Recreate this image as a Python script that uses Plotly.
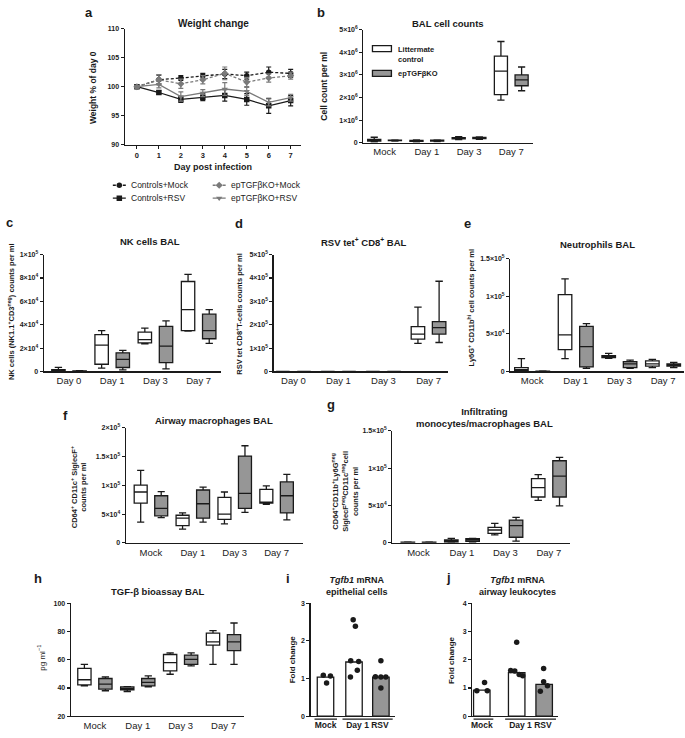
import plotly.graph_objects as go

W, H = 685, 738

# ---------------- data ----------------
weight_days = [0, 1, 2, 3, 4, 5, 6, 7]
controls_mock = [100.0, 101.2, 101.5, 101.9, 102.2, 101.9, 102.5, 102.3]
controls_mock_sem = [0.2, 0.8, 0.4, 0.4, 0.8, 0.6, 0.9, 0.7]
ko_mock = [100.0, 101.2, 100.5, 101.2, 102.3, 100.8, 101.5, 101.9]
ko_mock_sem = [0.2, 0.9, 0.8, 0.7, 1.1, 0.8, 0.7, 0.6]
controls_rsv = [100.0, 99.0, 97.8, 98.2, 98.5, 97.8, 96.7, 97.6]
controls_rsv_sem = [0.2, 0.3, 0.5, 0.6, 1.0, 1.0, 1.3, 0.9]
ko_rsv = [100.0, 100.4, 98.3, 98.9, 99.6, 99.2, 97.3, 98.1]
ko_rsv_sem = [0.2, 0.6, 0.8, 0.6, 1.1, 0.7, 0.6, 0.6]

times_mock = ["Mock", "Day 1", "Day 3", "Day 7"]
times_day0 = ["Day 0", "Day 1", "Day 3", "Day 7"]

# box statistics per category: [min, q1, median, q3, max]
bal_control = [[0.04e6, 0.07e6, 0.11e6, 0.15e6, 0.24e6], [0.04e6, 0.06e6, 0.08e6, 0.10e6, 0.12e6],
               [0.14e6, 0.17e6, 0.19e6, 0.22e6, 0.27e6], [1.88e6, 2.13e6, 3.17e6, 3.83e6, 4.48e6]]
bal_ko = [[0.07e6, 0.09e6, 0.10e6, 0.11e6, 0.12e6], [0.05e6, 0.07e6, 0.09e6, 0.11e6, 0.12e6],
          [0.15e6, 0.18e6, 0.21e6, 0.23e6, 0.26e6], [2.30e6, 2.52e6, 2.78e6, 3.00e6, 3.35e6]]

nk_control = [[0.0, 0.04e4, 0.08e4, 0.15e4, 0.35e4], [0.28e4, 0.62e4, 2.25e4, 3.15e4, 3.5e4],
              [2.36e4, 2.45e4, 2.73e4, 3.37e4, 3.71e4], [3.45e4, 3.5e4, 5.3e4, 7.7e4, 8.3e4]]
nk_ko = [[0.0, 0.02e4, 0.04e4, 0.06e4, 0.08e4], [0.14e4, 0.34e4, 1.04e4, 1.6e4, 1.8e4],
         [0.22e4, 0.76e4, 2.17e4, 3.86e4, 4.33e4], [2.4e4, 2.8e4, 3.5e4, 4.9e4, 5.3e4]]

rsv_control = [[0, 0, 0, 0, 0], [0, 0, 0, 0, 0], [0, 0, 0, 0, 0],
               [1.20e5, 1.38e5, 1.60e5, 1.92e5, 2.75e5]]
rsv_ko = [[0, 0, 0, 0, 0], [0, 0, 0, 0, 0], [0, 0, 0, 0, 0],
          [1.24e5, 1.60e5, 1.88e5, 2.13e5, 3.86e5]]

neut_control = [[0.0, 0.1e4, 0.2e4, 0.5e4, 1.7e4], [1.7e4, 2.9e4, 4.87e4, 10.2e4, 12.3e4],
                [1.75e4, 1.85e4, 1.95e4, 2.1e4, 2.4e4], [0.5e4, 0.7e4, 1.0e4, 1.4e4, 1.6e4]]
neut_ko = [[0.0, 0.02e4, 0.04e4, 0.06e4, 0.08e4], [0.4e4, 0.6e4, 3.3e4, 6.0e4, 6.35e4],
           [0.4e4, 0.5e4, 1.0e4, 1.3e4, 1.5e4], [0.5e4, 0.7e4, 0.85e4, 1.0e4, 1.2e4]]

am_control = [[3.6e4, 6.9e4, 8.85e4, 10.05e4, 12.6e4], [2.4e4, 3.0e4, 4.3e4, 4.8e4, 5.2e4],
              [3.3e4, 4.1e4, 5.0e4, 7.9e4, 8.85e4], [6.7e4, 6.9e4, 7.1e4, 9.3e4, 9.9e4]]
am_ko = [[4.4e4, 4.7e4, 6.0e4, 8.2e4, 8.9e4], [3.6e4, 4.3e4, 6.8e4, 9.2e4, 9.7e4],
         [5.3e4, 6.0e4, 8.6e4, 15.1e4, 16.9e4], [4.0e4, 5.2e4, 8.2e4, 10.6e4, 11.9e4]]

mono_control = [[0.02e4, 0.05e4, 0.08e4, 0.1e4, 0.12e4], [0.0, 0.1e4, 0.2e4, 0.4e4, 0.6e4],
                [1.06e4, 1.28e4, 1.72e4, 2.08e4, 2.6e4], [5.7e4, 6.14e4, 7.4e4, 8.6e4, 9.15e4]]
mono_ko = [[0.02e4, 0.05e4, 0.08e4, 0.1e4, 0.12e4], [0.1e4, 0.2e4, 0.4e4, 0.55e4, 0.6e4],
           [0.22e4, 0.75e4, 2.3e4, 3.05e4, 3.4e4], [4.95e4, 6.14e4, 8.93e4, 11.0e4, 11.45e4]]

tgf_control = [[41.5, 42.2, 45.8, 53.9, 56.7], [37.5, 38.7, 39.6, 40.8, 41.0],
               [49.7, 52.1, 57.9, 63.7, 64.9], [56.7, 70.3, 72.6, 78.9, 80.6]]
tgf_ko = [[38.0, 39.2, 42.7, 46.7, 47.9], [40.8, 41.5, 43.9, 46.7, 48.6],
          [55.6, 56.7, 60.2, 63.3, 64.9], [56.7, 66.5, 72.6, 77.8, 86.0]]

mrna_groups = ["Mock", "Day 1 RSV"]
epi_bars = [1.04, 1.44, 1.04]
epi_mock = [1.09, 1.07, 0.88]
epi_rsv_control = [2.56, 2.39, 1.47, 1.45, 1.22, 1.04]
epi_rsv_ko = [1.47, 1.05, 1.04, 1.04, 0.75]
leuk_bars = [0.92, 1.54, 1.13]
leuk_mock = [1.19, 0.90, 0.90]
leuk_rsv_control = [2.62, 1.62, 1.60, 1.48, 1.43]
leuk_rsv_ko = [1.69, 1.22, 1.08, 0.88]

# ---------------- styling / layout helpers ----------------
INK = "#1a1a1a"
GREY = "#969696"
LINEGREY = "#7a7a7a"
FONT = "Liberation Sans, Arial, sans-serif"


def px(x):
    return x / W


def py(y):
    return 1 - y / H


def sci(m, e):
    return "0" if m == 0 else f"{m}\u00d710<sup>{e}</sup>"


fig = go.Figure()
layout = dict(width=W, height=H, margin=dict(l=0, r=0, t=0, b=0, pad=0),
              plot_bgcolor="rgba(0,0,0,0)", paper_bgcolor="white", boxmode="overlay",
              font=dict(family=FONT, color=INK), showlegend=False)


def add_axes(n, xpx, ypx, xrange, yrange, yvals, ytext, xvals, xtext,
             xticks="", xfont=None):
    xk = "xaxis" if n == 1 else f"xaxis{n}"
    yk = "yaxis" if n == 1 else f"yaxis{n}"
    xid = "x" if n == 1 else f"x{n}"
    yid = "y" if n == 1 else f"y{n}"
    layout[xk] = dict(domain=[px(xpx[0]), px(xpx[1])], range=xrange, anchor=yid,
                      showline=True, linecolor=INK, linewidth=1.3, showgrid=False,
                      zeroline=False, ticks=xticks, ticklen=3, tickwidth=1.1,
                      tickcolor=INK, tickvals=xvals, ticktext=xtext,
                      tickfont=xfont or dict(size=9.5, color="#222"), fixedrange=True)
    layout[yk] = dict(domain=[py(ypx[1]), py(ypx[0])], range=yrange, anchor=xid,
                      showline=True, linecolor=INK, linewidth=1.3, showgrid=False,
                      zeroline=False, ticks="outside", ticklen=3, tickwidth=1.1,
                      tickcolor=INK, tickvals=yvals, ticktext=ytext,
                      tickfont=dict(size=7, color=INK, weight="bold"), fixedrange=True)
    return xid, yid


def add_boxes(n, stats_control, stats_ko, off=0.245, width=0.31):
    xid = "x" if n == 1 else f"x{n}"
    yid = "y" if n == 1 else f"y{n}"
    for stats, shift, fill in ((stats_control, -off, "white"), (stats_ko, off, GREY)):
        for i, s in enumerate(stats):
            fig.add_trace(go.Box(x=[i + shift], lowerfence=[s[0]], q1=[s[1]], median=[s[2]],
                                 q3=[s[3]], upperfence=[s[4]], width=width,
                                 whiskerwidth=0.55, fillcolor=fill,
                                 line=dict(color=INK, width=1.3), boxpoints=False,
                                 showlegend=False, hoverinfo="skip",
                                 xaxis=xid, yaxis=yid))


annotations = []
shapes = []


def text(x, y, t, size=10, bold=True, angle=0, xanchor="center", yanchor="middle",
         align="center", color=INK):
    s = f"<b>{t}</b>" if bold else t
    annotations.append(dict(x=px(x), y=py(y), xref="paper", yref="paper", text=s,
                            showarrow=False, textangle=angle, xanchor=xanchor,
                            yanchor=yanchor, align=align,
                            font=dict(size=size, family=FONT, color=color)))


# ---------------- panel a : weight ----------------
add_axes(1, (124, 300), (25, 142), [-0.55, 7.45], [90, 110],
         [90, 95, 100, 105, 110], ["90", "95", "100", "105", "110"],
         weight_days, [str(d) for d in weight_days], xticks="outside",
         xfont=dict(size=7.5, color=INK, weight="bold"))

series = [
    ("Controls+Mock", controls_mock, controls_mock_sem, INK, "circle", "3px,2px"),
    ("Controls+RSV", controls_rsv, controls_rsv_sem, INK, "square", "solid"),
    ("epTGF\u03b2KO+Mock", ko_mock, ko_mock_sem, LINEGREY, "diamond", "3px,2px"),
    ("epTGF\u03b2KO+RSV", ko_rsv, ko_rsv_sem, LINEGREY, "triangle-down", "solid"),
]
for name, vals, err, col, sym, dash in series:
    fig.add_trace(go.Scatter(x=weight_days, y=vals, name=name, mode="lines+markers",
                             line=dict(color=col, width=1.3, dash=dash),
                             marker=dict(symbol=sym, size=5.5, color=col),
                             error_y=dict(type="data", array=err, color=col,
                                          thickness=1.2, width=2.5),
                             xaxis="x", yaxis="y", hoverinfo="skip"))

# hand-drawn legend for panel a, on an invisible pixel-unit axis in the empty legend strip
LEG_X, LEG_Y = (100, 330), (174, 204)
layout["xaxis11"] = dict(domain=[px(LEG_X[0]), px(LEG_X[1])], range=list(LEG_X),
                         visible=False, fixedrange=True, anchor="y11")
layout["yaxis11"] = dict(domain=[py(LEG_Y[1]), py(LEG_Y[0])], range=[LEG_Y[1], LEG_Y[0]],
                         visible=False, fixedrange=True, anchor="x11")
legend_slots = [(112, 183), (112, 196), (212, 183), (212, 196)]
for (name, vals, err, col, sym, dash), (lx, ly) in zip(series, legend_slots):
    fig.add_trace(go.Scatter(x=[lx, lx + 13], y=[ly, ly], mode="lines",
                             line=dict(color=col, width=1.3, dash=dash),
                             xaxis="x11", yaxis="y11", hoverinfo="skip"))
    fig.add_trace(go.Scatter(x=[lx + 6.5], y=[ly], mode="markers",
                             marker=dict(symbol=sym, size=5.5, color=col),
                             xaxis="x11", yaxis="y11", hoverinfo="skip"))
    text(lx + 16, ly, name, size=8.5, bold=False, xanchor="left", color="#222")

text(88, 9, "a", size=13)
text(213, 20, "Weight change", size=10)
text(92, 84, "Weight % of day 0", size=8.5, angle=-90)
text(212, 165, "Day post infection", size=9)

# ---------------- panel b : BAL cell counts ----------------
add_axes(2, (363, 533), (26, 140), [-0.5, 3.52], [0, 5e6],
         [0, 1e6, 2e6, 3e6, 4e6, 5e6], [sci(m, 6) for m in range(6)],
         [0, 1, 2, 3], times_mock)
add_boxes(2, bal_control, bal_ko)
text(320, 9, "b", size=13)
text(448, 20, "BAL cell counts", size=9.5)
text(324, 83, "Cell count per ml", size=8.5, angle=-90)
shapes.append(dict(type="rect", xref="paper", yref="paper", x0=px(372), x1=px(391),
                   y0=py(48), y1=py(42), fillcolor="white", line=dict(color=INK, width=1.3)))
shapes.append(dict(type="rect", xref="paper", yref="paper", x0=px(372), x1=px(391),
                   y0=py(73), y1=py(67), fillcolor=GREY, line=dict(color=INK, width=1.3)))
text(396, 51, "Littermate<br>control", size=7.5, xanchor="left", align="left")
text(396, 70, "epTGF\u03b2KO", size=7.5, xanchor="left", align="left")

# ---------------- panel c : NK cells ----------------
add_axes(3, (43, 220), (253, 371), [-0.58, 3.51], [0, 1e5],
         [0, 2e4, 4e4, 6e4, 8e4, 1e5],
         ["0", sci(2, 4), sci(4, 4), sci(6, 4), sci(8, 4), sci(1, 5)],
         [0, 1, 2, 3], times_day0)
add_boxes(3, nk_control, nk_ko)
text(9, 221, "c", size=13)
text(149, 240, "NK cells BAL", size=9.5)
text(10, 310, "NK cells (NK1.1<sup>+</sup>CD3<sup>neg</sup>) counts per ml", size=7.5, angle=-90)

# ---------------- panel d : RSV tet+ CD8+ ----------------
add_axes(4, (273, 448), (253, 371), [-0.44, 3.44], [0, 5e5],
         [0, 1e5, 2e5, 3e5, 4e5, 5e5], [sci(m, 5) for m in range(6)],
         [0, 1, 2, 3], times_day0)
add_boxes(4, rsv_control, rsv_ko, off=0.235, width=0.3)
text(238, 222, "d", size=13)
text(364, 240, "RSV tet<sup>+</sup> CD8<sup>+</sup> BAL", size=9.5)
text(238, 313, "RSV tet CD8<sup>+</sup>T-cells counts per ml", size=7.5, angle=-90)

# ---------------- panel e : neutrophils ----------------
add_axes(5, (510, 684), (257, 371), [-0.5, 3.48], [0, 1.5e5],
         [0, 5e4, 1e5, 1.5e5], ["0", sci(5, 4), sci(1, 5), sci(1.5, 5)],
         [0, 1, 2, 3], times_mock)
add_boxes(5, neut_control, neut_ko)
text(467, 222, "e", size=13)
text(597, 243, "Neutrophils BAL", size=9.5)
text(471, 306, "Ly6G<sup>+</sup> CD11b<sup>hi</sup> cell counts per ml", size=7.5, angle=-90)

# ---------------- panel f : airway macrophages ----------------
add_axes(6, (125, 302), (428, 544), [-0.6, 3.62], [0, 2e5],
         [0, 5e4, 1e5, 1.5e5, 2e5], ["0", sci(5, 4), sci(1, 5), sci(1.5, 5), sci(2, 5)],
         [0, 1, 2, 3], times_mock)
add_boxes(6, am_control, am_ko)
text(65, 415, "f", size=13)
text(213, 420, "Airway macrophages BAL", size=9.5)
text(78, 488, "CD64<sup>+</sup> CD11c<sup>+</sup> SiglecF<sup>+</sup><br>counts per ml",
     size=7.5, angle=-90)

# ---------------- panel g : infiltrating monocytes/macrophages ----------------
add_axes(7, (392, 570), (431, 544), [-0.6, 3.49], [0, 1.5e5],
         [0, 5e4, 1e5, 1.5e5], ["0", sci(5, 4), sci(1, 5), sci(1.5, 5)],
         [0, 1, 2, 3], times_mock)
add_boxes(7, mono_control, mono_ko)
text(330, 404, "g", size=13)
text(484, 417, "Infiltrating<br>monocytes/macrophages BAL", size=9.5)
text(345, 492, "CD64<sup>+</sup>CD11b<sup>+</sup>Ly6G<sup>neg</sup><br>"
     "SiglecF<sup>neg</sup>CD11c<sup>neg</sup>cell<br>counts per ml", size=7.5, angle=-90)

# ---------------- panel h : TGF-beta bioassay ----------------
add_axes(8, (70, 243), (605, 719), [-0.56, 3.47], [20, 100],
         [20, 40, 60, 80, 100], ["20", "40", "60", "80", "100"],
         [0, 1, 2, 3], times_mock)
add_boxes(8, tgf_control, tgf_ko)
text(37, 580, "h", size=13)
text(157, 593, "TGF-\u03b2 bioassay BAL", size=9.5)
text(40, 660, "pg ml<sup>\u22121</sup>", size=8, bold=False, angle=-90)


# ---------------- panels i, j : Tgfb1 mRNA ----------------
def mrna_panel(n, xpx, xrange, ymax, pos, bars, groups_pts, jitters, centers):
    xid, yid = add_axes(n, xpx, (605, 719), xrange, [0, ymax],
                        list(range(ymax + 1)), [str(v) for v in range(ymax + 1)],
                        centers, [f"<b>{g}</b>" for g in mrna_groups],
                        xfont=dict(size=8.5, color=INK))
    fig.add_trace(go.Bar(x=pos, y=bars, width=0.6, marker=dict(color=["white", "white", GREY],
                         line=dict(color=INK, width=1.3)), showlegend=False,
                         hoverinfo="skip", xaxis=xid, yaxis=yid))
    for p, pts, jit in zip(pos, groups_pts, jitters):
        fig.add_trace(go.Scatter(x=[p + j for j in jit], y=pts, mode="markers",
                                 marker=dict(color=INK, size=5.5), showlegend=False,
                                 hoverinfo="skip", xaxis=xid, yaxis=yid))
    return xid, yid


xi, yi = mrna_panel(9, (310, 395), [-0.545, 2.55], 3, [0, 1.04, 2.02], epi_bars,
                    [epi_mock, epi_rsv_control, epi_rsv_ko],
                    [[-0.08, 0.18, 0.04], [-0.03, 0.05, -0.12, 0.17, 0.12, -0.13],
                     [0.0, -0.2, 0.0, 0.18, 0.0]], [0, 1.53])
xj, yj = mrna_panel(10, (472, 558), [-0.345, 2.78], 4, [0, 1.27, 2.27], leuk_bars,
                    [leuk_mock, leuk_rsv_control, leuk_rsv_ko],
                    [[0.1, -0.18, 0.2], [0.0, -0.22, -0.07, 0.09, 0.22],
                     [-0.02, -0.02, 0.12, -0.14]], [0, 1.77])
for xid, segs in ((xi, [(-0.4, 0.42), (0.62, 2.45)]), (xj, [(-0.3, 0.42), (0.85, 2.7)])):
    for a, b in segs:
        shapes.append(dict(type="line", xref=xid, yref="paper", x0=a, x1=b,
                           y0=py(722), y1=py(722), line=dict(color=INK, width=1.3)))

text(287, 580, "i", size=13)
text(357, 588, "<i>Tgfb1</i> mRNA<br>epithelial cells", size=9)
text(292, 662, "Fold change", size=8, angle=-90)
text(448, 579, "j", size=13)
text(517, 588, "<i>Tgfb1</i> mRNA<br>airway leukocytes", size=9)
text(451, 662, "Fold change", size=8, angle=-90)

layout["annotations"] = annotations
layout["shapes"] = shapes
fig.update_layout(**layout)
fig.write_html("out.html", config={"displayModeBar": False, "staticPlot": True},
               post_script="document.body.style.margin='0px';"
                           "document.body.style.overflow='hidden';")
